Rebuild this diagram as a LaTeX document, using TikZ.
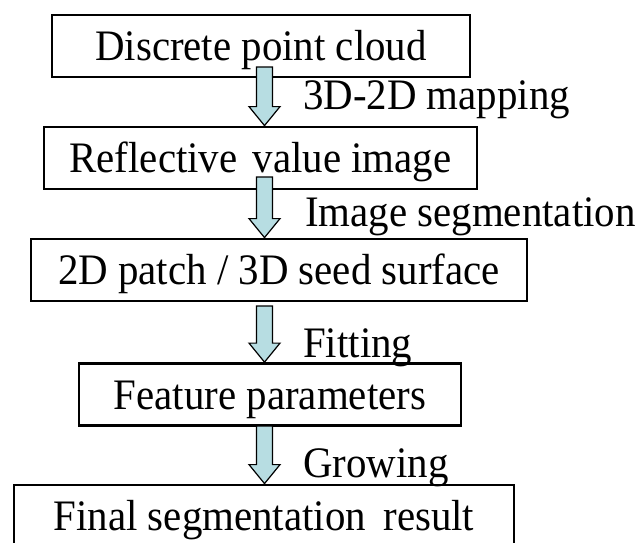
\documentclass[tikz,border=0pt]{standalone}
\usepackage{fontspec}
\setmainfont{Liberation Serif}[FakeStretch=0.94]
\usetikzlibrary{calc}
\definecolor{arrowfill}{RGB}{183,221,226}
% block arrow from a start coordinate (#1) down to a tip point (#2)
\newcommand\blockarrow[2]{%
  \draw[flowarrow] let \p1=(#1), \p2=(#2) in
    (\x1-8pt,\y1) -- (\x1+8pt,\y1) -- (\x1+8pt,\y2+19pt) -- (\x1+15.5pt,\y2+19pt)
    -- (\x1,\y2) -- (\x1-15.5pt,\y2+19pt) -- (\x1-8pt,\y2+19pt) -- cycle;}
\begin{document}
\begin{tikzpicture}[x=1pt,y=-1pt,
  stepbox/.style={draw=black, line width=2.8pt, inner sep=0pt, minimum height=62pt,
    text height=29pt, text depth=0pt, font=\fontsize{43.5}{52}\selectfont},
  steplabel/.style={anchor=base west, inner sep=0pt, font=\fontsize{43.5}{52}\selectfont},
  flowarrow/.style={draw=black, line width=1.2pt, fill=arrowfill, line join=miter}]
\useasboundingbox (0,0) rectangle (637,542);
\clip (0,0) rectangle (637,542);

% process steps
\node[stepbox, minimum width=418pt] (b1) at (261,46) {Discrete point cloud};
\node[stepbox, minimum width=433pt] (b2) at (260.5,158) {Reflective\hspace{0.35em}value image};
\node[stepbox, minimum width=496pt] (b3) at (279,270) {2D patch / 3D seed surface};
\node[stepbox, minimum width=382pt] (b4) at (270,394.5) {Feature parameters};
\node[stepbox, minimum width=500pt] (b5) at (264,516) {Final segmentation\hspace{0.4em}result};

% arrow starting points
\coordinate (s1) at (264.5,67);
\coordinate (s2) at (264.5,177);
\coordinate (s3) at (264.5,306);
\coordinate (s4) at (264.5,426);

\blockarrow{s1}{b2.north -| s1}
\blockarrow{s2}{b3.north -| s2}
\blockarrow{s3}{b4.north -| s3}
\blockarrow{s4}{b5.north -| s4}

% operation labels
\node[steplabel] (l1) at (303,109) {3D-2D mapping};
\node[steplabel] (l2) at (305,226) {Image segmentation};
\node[steplabel] (l3) at (303,357) {Fitting};
\node[steplabel] (l4) at (303,477) {Growing};
\end{tikzpicture}
\end{document}
